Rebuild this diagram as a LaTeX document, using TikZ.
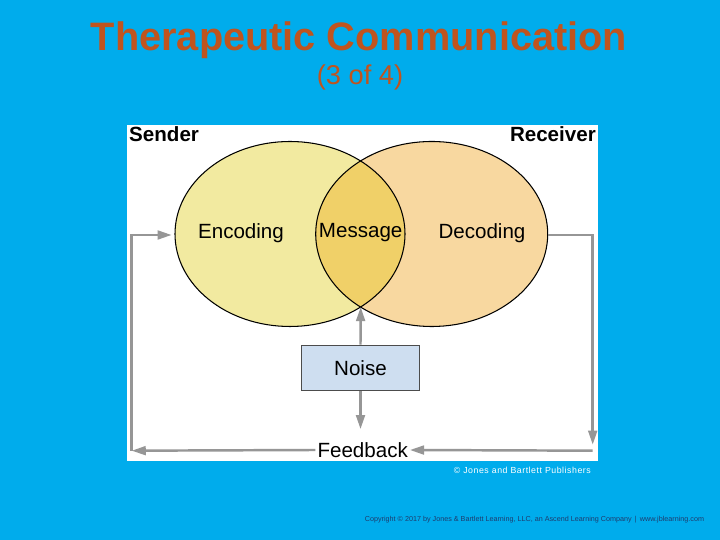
\documentclass[tikz,border=0pt]{standalone}
\usepackage{fontspec}
\setmainfont{Liberation Sans}
\usetikzlibrary{arrows.meta,positioning,shapes.geometric,calc}
\definecolor{slideblue}{RGB}{0,172,236}
\definecolor{titlebrown}{RGB}{192,84,30}
\definecolor{sendfill}{RGB}{242,234,160}
\definecolor{recvfill}{RGB}{248,216,160}
\definecolor{msgfill}{RGB}{240,208,104}
\definecolor{noisefill}{RGB}{206,222,240}
\definecolor{flowgray}{RGB}{150,150,150}
\definecolor{credblue}{RGB}{30,60,110}

\begin{document}
\begin{tikzpicture}[every node/.style={font=\fontsize{11.7}{13}\selectfont},
        oval/.style={ellipse,minimum width=4.6cm,minimum height=3.7cm,inner sep=0pt},
        flow/.style={draw=flowgray,line width=1.4pt,-{Triangle[length=8pt,width=5pt]}}]
      \fill[slideblue] (0,0) rectangle (14.4,10.8);
      \useasboundingbox (0,0) rectangle (14.4,10.8);
      % title
      \node[text=titlebrown,font=\fontsize{22.6}{26}\selectfont\bfseries] (ttl) at (7.18,9.99) {Therapeutic Communication};
      \node[text=titlebrown,font=\fontsize{15.5}{18}\selectfont] (sub) at (7.2,9.26) {(3 of 4)};
      % figure panel
      \fill[white] (2.54,1.58) rectangle (11.96,8.30);
      \node[anchor=north west,inner sep=0.5pt,font=\fontsize{11.7}{13}\selectfont\bfseries] (snd) at (2.56,8.30) {Sender};
      \node[anchor=north east,inner sep=0.5pt,font=\fontsize{11.7}{13}\selectfont\bfseries] (rcv) at (11.94,8.30) {Receiver};
      \node[oval,fill=sendfill] (lft) at (5.80,6.12) {};
      \node[oval,fill=recvfill,minimum width=4.64cm] (rgt) at (8.634,6.12) {};
      \begin{scope}
        \clip (5.80,6.12) ellipse [x radius=2.30,y radius=1.85];
        \fill[msgfill] (8.634,6.12) ellipse [x radius=2.32,y radius=1.85];
      \end{scope}
      \draw[line width=0.6pt] (5.80,6.12) ellipse [x radius=2.30,y radius=1.85];
      \draw[line width=0.6pt] (8.634,6.12) ellipse [x radius=2.32,y radius=1.85];
      \node (enc) at (4.82,6.14) {Encoding};
      \node (msg) at (7.214,6.14) {Message};
      \node (dec) at (9.64,6.14) {Decoding};
      \coordinate (meet) at (7.214,4.66);
      \node[draw=black!70,fill=noisefill,minimum width=2.35cm,minimum height=0.91cm,line width=0.6pt] (noi) at (7.21,3.443) {Noise};
      \node[inner sep=1pt] (fb) at (7.254,1.80) {Feedback};
      \coordinate (cl) at (2.634,1.786);
      \coordinate (cr) at (11.854,1.786);
      % connectors
      \draw[flow] (noi.north)--(meet);
      \draw[flow] (noi.south)--++(0,-0.76);
      \draw[flow] (fb.west)--(cl);
      \draw[flow] (cl)|-($(lft.west)+(-0.06,-0.02)$);
      \draw[flow] ($(rgt.east)+(0,-0.02)$)-|($(cr)+(0,0.12)$);
      \draw[flow] (cr)--(fb.east);
      % credits
      \node[anchor=east,text=white,font=\fontsize{5}{6}\selectfont] (crd) at (11.94,1.40) {\addfontfeature{LetterSpace=6}© Jones and Bartlett Publishers};
      \node[text=credblue,font=\fontsize{4.1}{5}\selectfont] (cpy) at (10.69,0.40) {Copyright © 2017 by Jones \& Bartlett Learning, LLC, an Ascend Learning Company \,|\, www.jblearning.com};
    \end{tikzpicture}
\end{document}
